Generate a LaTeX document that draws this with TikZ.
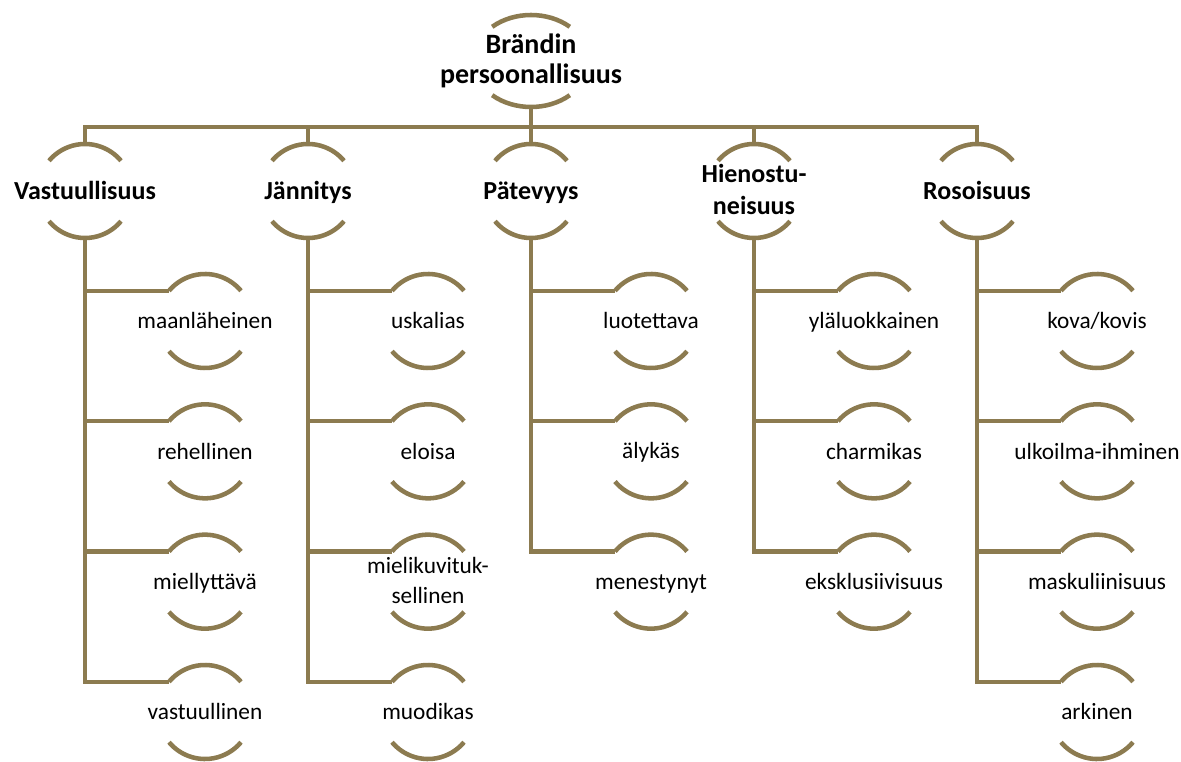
\documentclass[tikz,border=0pt]{standalone}
\usepackage{fontspec}
\setmainfont{Carlito}
\usetikzlibrary{positioning}
\definecolor{olivebrown}{HTML}{8C7B50}

\begin{document}
\begin{tikzpicture}[
  on grid,
  ln/.style={draw=olivebrown, line width=3.4pt},
  hd/.style={font=\bfseries\fontsize{19.5}{24}\selectfont, align=center, inner sep=0pt,
    execute at begin node={\rule{0pt}{0.8em}}, execute at end node={\rule[-0.15em]{0pt}{0.15em}}},
  top/.style={font=\bfseries\fontsize{21}{23}\selectfont, align=center, inner sep=0pt,
    execute at begin node={\rule{0pt}{0.8em}}, execute at end node={\rule[-0.15em]{0pt}{0.15em}}},
  it/.style={font=\fontsize{17.5}{22.5}\selectfont, align=center, inner sep=0pt,
    execute at begin node={\rule{0pt}{0.8em}}, execute at end node={\rule[-0.13em]{0pt}{0.13em}}},
]
  \useasboundingbox (0,0) rectangle (885.75pt,-571.5pt);

  % Root
  \node[top] (brand) at (398.25pt,-45.75pt) {Brändin\\persoonallisuus};

  % Dimensions
  \node[hd, below=97.5pt of brand] (patevyys) {Pätevyys};
  \node[hd, left=167.25pt of patevyys] (jannitys) {Jännitys};
  \node[hd, left=167.25pt of jannitys] (vastuu) {Vastuullisuus};
  \node[hd, right=167.25pt of patevyys] (hieno) {Hienostu-\\neisuus};
  \node[hd, right=167.25pt of hieno] (roso) {Rosoisuus};

  % Traits
  \node[it, below right=97.5pt and 90pt of vastuu] (v1) {maanläheinen};
  \node[it, below=97.75pt of v1] (v2) {rehellinen};
  \node[it, below=97.75pt of v2] (v3) {miellyttävä};
  \node[it, below=97.75pt of v3] (v4) {vastuullinen};

  \node[it, below right=97.5pt and 90pt of jannitys] (j1) {uskalias};
  \node[it, below=97.75pt of j1] (j2) {eloisa};
  \node[it, below=97.75pt of j2] (j3) {mielikuvituk-\\sellinen};
  \node[it, below=97.75pt of j3] (j4) {muodikas};

  \node[it, below right=97.5pt and 90pt of patevyys] (p1) {luotettava};
  \node[it, below=97.75pt of p1] (p2) {älykäs};
  \node[it, below=97.75pt of p2] (p3) {menestynyt};

  \node[it, below right=97.5pt and 90pt of hieno] (h1) {yläluokkainen};
  \node[it, below=97.75pt of h1] (h2) {charmikas};
  \node[it, below=97.75pt of h2] (h3) {eksklusiivisuus};

  \node[it, below right=97.5pt and 90pt of roso] (r1) {kova/kovis};
  \node[it, below=97.75pt of r1] (r2) {ulkoilma-ihminen};
  \node[it, below=97.75pt of r2] (r3) {maskuliinisuus};
  \node[it, below=97.75pt of r3] (r4) {arkinen};

  % Arcs
  \draw[ln] ([shift={(48:43.5pt and 34.5pt)}]brand.center) arc[start angle=48, end angle=132, x radius=43.5pt, y radius=34.5pt]
            ([shift={(228:43.5pt and 34.5pt)}]brand.center) arc[start angle=228, end angle=312, x radius=43.5pt, y radius=34.5pt];
  \foreach \n in {vastuu,jannitys,patevyys,hieno,roso,v1,v2,v3,v4,j1,j2,j3,j4,p1,p2,p3,h1,h2,h3,r1,r2,r3,r4}
    \draw[ln] ([shift={(40:35.25pt)}]\n.center) arc[start angle=40, end angle=140, radius=35.25pt]
              ([shift={(220:35.25pt)}]\n.center) arc[start angle=220, end angle=320, radius=35.25pt];

  % Connectors
  \coordinate[below=49.5pt of brand] (hub);
  \draw[ln] ([yshift=-34.5pt]brand.center) -- (hub);
  \foreach \c in {vastuu,jannitys,patevyys,hieno,roso}
    \draw[ln] ([yshift=35.25pt]\c.center) |- (hub);
  \foreach \c/\k in {vastuu/v1,vastuu/v2,vastuu/v3,vastuu/v4,jannitys/j1,jannitys/j2,jannitys/j3,jannitys/j4,
                     patevyys/p1,patevyys/p2,patevyys/p3,hieno/h1,hieno/h2,hieno/h3,roso/r1,roso/r2,roso/r3,roso/r4}
    \draw[ln] ([yshift=-35.25pt]\c.center) |- ([shift={(140:35.25pt)}]\k.center);
\end{tikzpicture}
\end{document}
